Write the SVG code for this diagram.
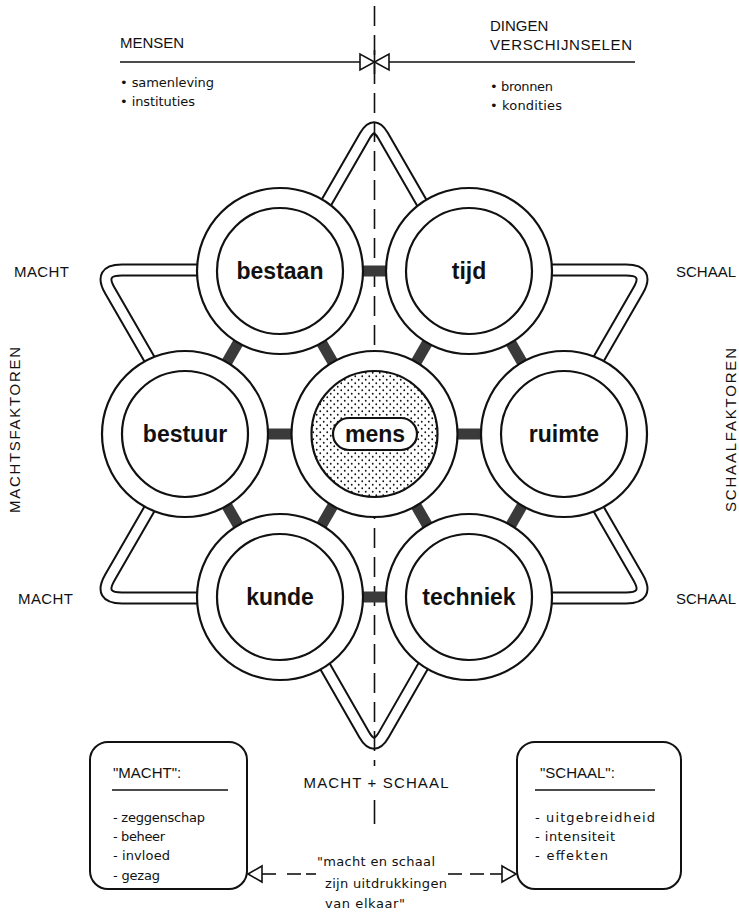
<svg xmlns="http://www.w3.org/2000/svg" width="739" height="912" viewBox="0 0 739 912">
<defs>
<style>
.t{font-family:"Liberation Sans",Arial,sans-serif;fill:#111}
.cap{font-size:15px}
.sm{font-family:"DejaVu Sans","Liberation Sans",sans-serif;font-size:13px}
.lbl{font-size:23px;font-weight:bold;text-anchor:middle}
.ring{fill:#fff;stroke:#111;stroke-width:2.2}
.inner{fill:#fff;stroke:#111;stroke-width:2.2}
.bo{fill:none;stroke:#111;stroke-width:13}
.bi{fill:none;stroke:#fff;stroke-width:9}
.dash{stroke:#111;stroke-width:1.6;stroke-dasharray:20 9;fill:none}
.bar{fill:#3a3a3a}
.box{fill:#fff;stroke:#111;stroke-width:2}
.ln{stroke:#111;stroke-width:1.6;fill:none}
.tri{fill:#fff;stroke:#111;stroke-width:1.6}
</style>
<pattern id="dots" width="7" height="7" patternUnits="userSpaceOnUse">
<circle cx="1.75" cy="1.75" r="0.9" fill="#111"/>
<circle cx="5.25" cy="5.25" r="0.9" fill="#111"/>
</pattern>
<path id="pApex" d="M294,258.6 L365,135.6 Q374,120 383,135.6 L454,258.6"/>
<path id="pBL" d="M183,450.8 L110,577.2 Q98,598 122,598 L270,598"/>
<path id="pBR" d="M565,450.8 L638,577.2 Q650,598 626,598 L478,598"/>
<path id="pTL" d="M270,270 L122,270 Q98,270 110,290.8 L183,417.2"/>
<path id="pTR" d="M478,270 L626,270 Q650,270 638,290.8 L565,417.2"/>
<path id="pD" d="M286.4,599 L364.1,734.6 Q374,752 383.9,734.6 L461.6,599"/>
</defs>
<rect width="739" height="912" fill="#fff"/>

<g id="header">
<line class="ln" x1="120" y1="62" x2="635" y2="62"/>
<text class="t cap" x="120" y="48">MENSEN</text>
<text class="t cap" x="490" y="31">DINGEN</text>
<text class="t cap" x="490" y="50" textLength="142">VERSCHIJNSELEN</text>
<text class="t sm" x="120" y="87" textLength="94">• samenleving</text>
<text class="t sm" x="120" y="106" textLength="75">• instituties</text>
<text class="t sm" x="490" y="91" textLength="63">• bronnen</text>
<text class="t sm" x="490" y="110" textLength="72">• kondities</text>
</g>

<g id="labels">
<text class="t cap" x="14" y="277" textLength="55">MACHT</text>
<text class="t cap" x="18" y="604" textLength="55">MACHT</text>
<text class="t cap" x="676" y="277">SCHAAL</text>
<text class="t cap" x="676" y="604">SCHAAL</text>
<text class="t cap" transform="translate(20,430) rotate(-90)" text-anchor="middle" textLength="166">MACHTSFAKTOREN</text>
<text class="t cap" transform="translate(736,430) rotate(-90)" text-anchor="middle" textLength="164">SCHAALFAKTOREN</text>
<text class="t cap" x="376" y="788" text-anchor="middle" textLength="145">MACHT + SCHAAL</text>
</g>

<g id="bands">
<use href="#pApex" class="bo"/><use href="#pBL" class="bo"/><use href="#pBR" class="bo"/>
<use href="#pTL" class="bo"/><use href="#pTR" class="bo"/><use href="#pD" class="bo"/>
<use href="#pApex" class="bi"/><use href="#pBL" class="bi"/><use href="#pBR" class="bi"/>
<use href="#pTL" class="bi"/><use href="#pTR" class="bi"/><use href="#pD" class="bi"/>
</g>

<g id="connectors">
<line class="dash" x1="374.5" y1="6" x2="374.5" y2="766"/>
<line class="ln" x1="374.5" y1="50" x2="374.5" y2="74"/>
<line class="ln" x1="374.5" y1="800" x2="374.5" y2="824"/>
<polygon class="tri" points="360,54 360,70 374.5,62"/>
<polygon class="tri" points="389,54 389,70 374.5,62"/>
<g class="bar">
<rect x="-13" y="-5.5" width="26" height="11" transform="translate(374.5,271)"/>
<rect x="-13" y="-5.5" width="26" height="11" transform="translate(279.75,434)"/>
<rect x="-13" y="-5.5" width="26" height="11" transform="translate(469.25,434)"/>
<rect x="-13" y="-5.5" width="26" height="11" transform="translate(374.5,597)"/>
<rect x="-13" y="-5.5" width="26" height="11" transform="translate(232.5,352.5) rotate(120)"/>
<rect x="-13" y="-5.5" width="26" height="11" transform="translate(327.25,352.5) rotate(60)"/>
<rect x="-13" y="-5.5" width="26" height="11" transform="translate(421.75,352.5) rotate(120)"/>
<rect x="-13" y="-5.5" width="26" height="11" transform="translate(516.5,352.5) rotate(60)"/>
<rect x="-13" y="-5.5" width="26" height="11" transform="translate(232.5,515.5) rotate(60)"/>
<rect x="-13" y="-5.5" width="26" height="11" transform="translate(327.25,515.5) rotate(120)"/>
<rect x="-13" y="-5.5" width="26" height="11" transform="translate(421.75,515.5) rotate(60)"/>
<rect x="-13" y="-5.5" width="26" height="11" transform="translate(516.5,515.5) rotate(120)"/>
</g>
<line class="ln" x1="262" y1="874" x2="276" y2="874"/>
<line class="ln" x1="287" y1="874" x2="301" y2="874"/>
<line class="ln" x1="306" y1="874" x2="316" y2="874"/>
<line class="ln" x1="448" y1="874" x2="462" y2="874"/>
<line class="ln" x1="470" y1="874" x2="484" y2="874"/>
<line class="ln" x1="490" y1="874" x2="502" y2="874"/>
<polygon class="tri" points="248,874 262,866 262,882"/>
<polygon class="tri" points="516,874 502,866 502,882"/>
<text class="t sm" x="317" y="866" textLength="118">"macht en schaal</text>
<text class="t sm" x="325" y="888" textLength="122">zijn uitdrukkingen</text>
<text class="t sm" x="325" y="908" textLength="80">van elkaar"</text>
</g>

<g id="node-bestaan"><circle class="ring" cx="280" cy="271" r="83"/><circle class="inner" cx="280" cy="271" r="63"/><text class="t lbl" x="280" y="279">bestaan</text></g>
<g id="node-tijd"><circle class="ring" cx="469" cy="271" r="83"/><circle class="inner" cx="469" cy="271" r="63"/><text class="t lbl" x="469" y="279">tijd</text></g>
<g id="node-bestuur"><circle class="ring" cx="185" cy="434" r="83"/><circle class="inner" cx="185" cy="434" r="63"/><text class="t lbl" x="185" y="442">bestuur</text></g>
<g id="node-mens"><circle class="ring" cx="374.5" cy="434" r="83"/><circle class="inner" cx="374.5" cy="434" r="63" style="fill:url(#dots)"/><rect x="333" y="418" width="84" height="32" rx="16" fill="#fff" stroke="#111" stroke-width="2.2"/><text class="t lbl" x="375" y="442">mens</text></g>
<g id="node-ruimte"><circle class="ring" cx="564" cy="434" r="83"/><circle class="inner" cx="564" cy="434" r="63"/><text class="t lbl" x="564" y="442">ruimte</text></g>
<g id="node-kunde"><circle class="ring" cx="280" cy="597" r="83"/><circle class="inner" cx="280" cy="597" r="63"/><text class="t lbl" x="280" y="605">kunde</text></g>
<g id="node-techniek"><circle class="ring" cx="469" cy="597" r="83"/><circle class="inner" cx="469" cy="597" r="63"/><text class="t lbl" x="469" y="605">techniek</text></g>

<g id="box-macht">
<rect class="box" x="90" y="742" width="157" height="147" rx="18"/>
<text class="t cap" x="113" y="778">"MACHT":</text>
<line class="ln" x1="112" y1="790" x2="228" y2="790"/>
<text class="t sm" x="113" y="822" textLength="92">- zeggenschap</text>
<text class="t sm" x="113" y="841" textLength="52">- beheer</text>
<text class="t sm" x="113" y="860" textLength="57">- invloed</text>
<text class="t sm" x="113" y="880" textLength="47">- gezag</text>
</g>
<g id="box-schaal">
<rect class="box" x="517" y="742" width="164" height="147" rx="18"/>
<text class="t cap" x="540" y="778">"SCHAAL":</text>
<line class="ln" x1="535" y1="790" x2="655" y2="790"/>
<text class="t sm" x="535" y="822" textLength="120">- uitgebreidheid</text>
<text class="t sm" x="535" y="841" textLength="80">- intensiteit</text>
<text class="t sm" x="535" y="860" textLength="73">- effekten</text>
</g>
</svg>
